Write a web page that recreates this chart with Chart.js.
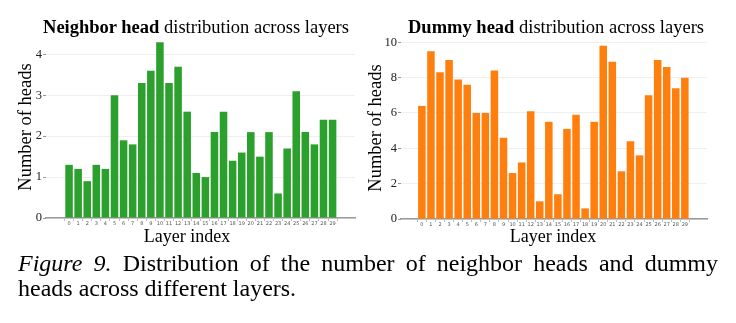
<!DOCTYPE html>
<html>
<head>
<meta charset="utf-8">
<script src="https://cdn.jsdelivr.net/npm/chart.js@4.4.1/dist/chart.umd.min.js"></script>
<style>
  html, body { margin: 0; padding: 0; background: #fff; }
  body { width: 736px; height: 323px; position: relative; overflow: hidden; font-family: "Liberation Serif", "DejaVu Serif", serif; color: #000; }
  canvas { position: absolute; }
  .t { position: absolute; white-space: nowrap; font-family: "Liberation Serif", serif; }
  .title { font-size: 18.5px; top: 17px; transform: translateX(-50%); }
  .xt { font-size: 18px; top: 226px; transform: translateX(-50%); }
  .cap { font-size: 24px; left: 18px; }
  .just { width: 700px; white-space: normal; text-align: justify; text-align-last: justify; }
</style>
</head>
<body>
<canvas id="c1" width="368" height="248" style="left:0;top:0"></canvas>
<canvas id="c2" width="378" height="248" style="left:358px;top:0"></canvas>
<div class="t title" style="left:196px"><b>Neighbor head</b> distribution across layers</div>
<div class="t title" style="left:556px"><b>Dummy head</b> distribution across layers</div>
<div class="t xt" style="left:187px">Layer index</div>
<div class="t xt" style="left:553px">Layer index</div>
<div class="t cap just" style="top:250px"><i>Figure 9.</i> Distribution of the number of neighbor heads and dummy</div>
<div class="t cap" style="top:275px">heads across different layers.</div>
<script>
const layers = ['0','1','2','3','4','5','6','7','8','9','10','11','12','13','14','15','16','17','18','19','20','21','22','23','24','25','26','27','28','29'];
const neighborHeads = [1.3,1.2,0.9,1.3,1.2,3.0,1.9,1.8,3.3,3.6,4.3,3.3,3.7,2.6,1.1,1.0,2.1,2.6,1.4,1.6,2.1,1.5,2.1,0.6,1.7,3.1,2.1,1.8,2.4,2.4];
const dummyHeads = [6.4,9.5,8.3,9.0,7.9,7.6,6.0,6.0,8.4,4.6,2.6,3.2,6.1,1.0,5.5,1.4,5.1,5.9,0.6,5.5,9.8,8.9,2.7,4.4,3.6,7.0,9.0,8.6,7.4,8.0];
const neighborYTicks = [0,1,2,3,4];
const dummyYTicks = [0,2,4,6,8,10];

function makeChart(id, values, color, yTicks, cfg) {
  return new Chart(document.getElementById(id), {
    type: 'bar',
    data: {
      datasets: [{
        data: values.map((v, i) => ({ x: i, y: v })),
        backgroundColor: color,
        borderWidth: 0,
        barPercentage: 0.83,
        categoryPercentage: 1
      }]
    },
    options: {
      responsive: false,
      animation: false,
      layout: { padding: { left: 0, right: cfg.padRight, top: cfg.padTop, bottom: 0 } },
      plugins: { legend: { display: false }, tooltip: { enabled: false } },
      scales: {
        x: {
          type: 'linear',
          min: cfg.xMin, max: cfg.xMax,
          afterBuildTicks: s => { s.ticks = layers.map((l, i) => ({ value: i })); },
          afterFit: s => { s.height = cfg.xHeight; },
          ticks: {
            autoSkip: false, maxRotation: 0, padding: 0,
            font: { family: 'DejaVu Sans', size: 5 }, color: '#555',
            callback: v => layers[v]
          },
          grid: { display: true, drawOnChartArea: false, tickLength: 3, color: '#bbb' },
          border: { display: true, color: '#999', width: 1.5 }
        },
        y: {
          min: 0, max: cfg.yMax,
          afterBuildTicks: s => { s.ticks = yTicks.map(v => ({ value: v })); },
          afterFit: s => { s.width = cfg.yWidth; },
          ticks: {
            padding: 1,
            font: { family: 'Liberation Serif', size: 12.5 }, color: '#222',
            callback: v => String(v)
          },
          grid: { color: '#efefef', lineWidth: 1, tickLength: 3, tickColor: '#999' },
          border: { display: false },
          title: {
            display: true, text: 'Number of heads', color: '#000',
            font: { family: 'Liberation Serif', size: 18.5 },
            padding: { top: cfg.yTitlePad, bottom: 0 }
          }
        }
      }
    }
  });
}

makeChart('c1', neighborHeads, '#2ca02c', neighborYTicks,
  { padRight: 13, padTop: 36, xMin: -1.97, xMax: 30.9, xHeight: 30, yMax: 4.45, yWidth: 46, yTitlePad: 15 });
makeChart('c2', dummyHeads, '#ff7f0e', dummyYTicks,
  { padRight: 29, padTop: 37, xMin: -1.74, xMax: 30.88, xHeight: 29, yMax: 10.3, yWidth: 43, yTitlePad: 7 });
</script>
</body>
</html>
